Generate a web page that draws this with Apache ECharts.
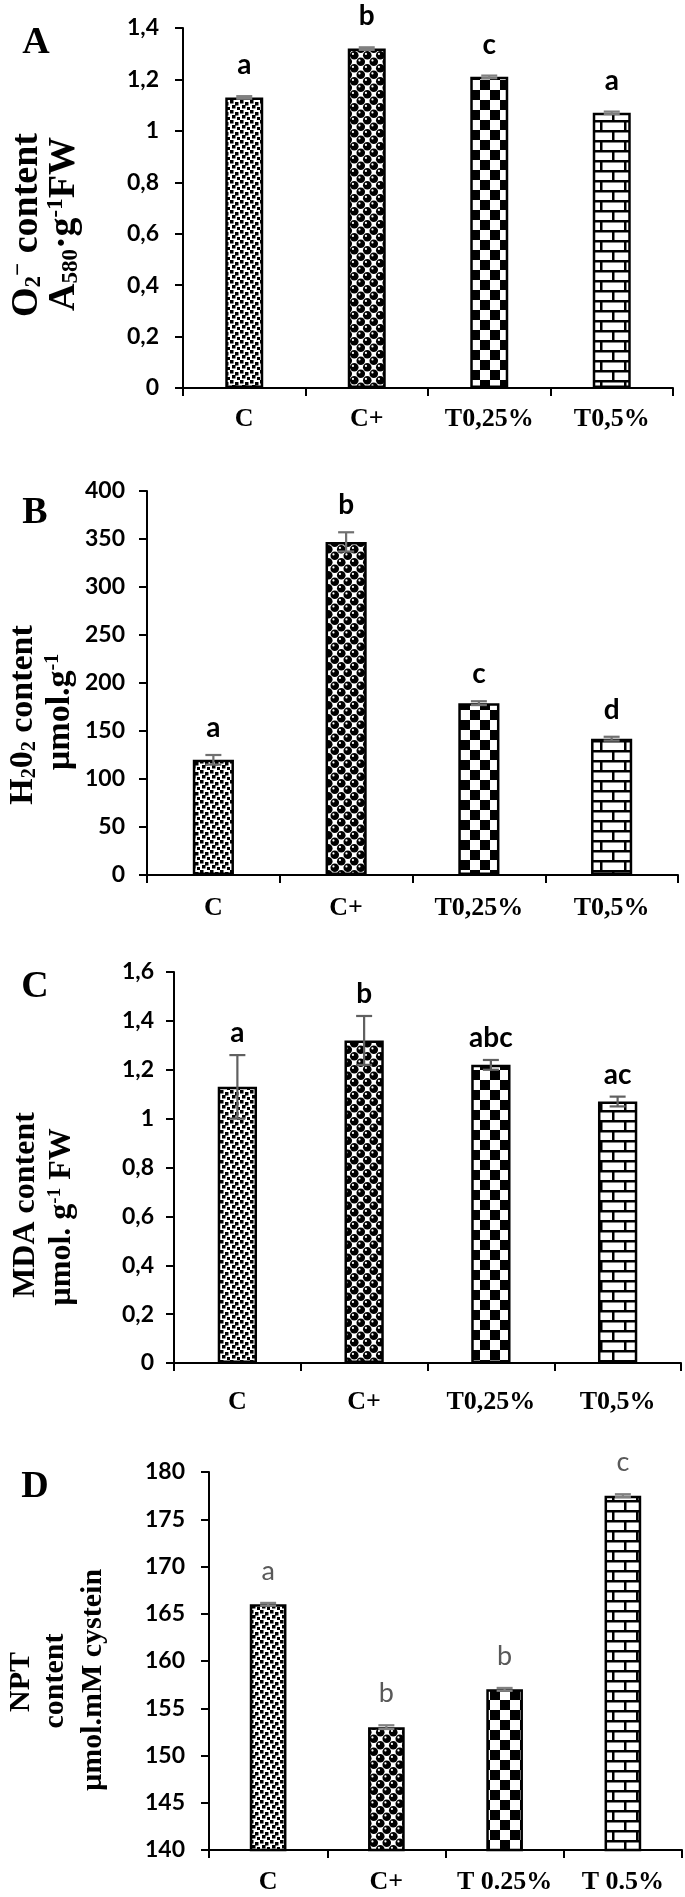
<!DOCTYPE html>
<html><head><meta charset="utf-8">
<script src="https://cdn.jsdelivr.net/npm/echarts@6/dist/echarts.min.js"></script>
<style>html,body{margin:0;padding:0;background:#fff}#chart{width:685px;height:1897px}</style>
</head><body><div id="chart"></div>
<script>
const categoriesABC = ['C', 'C+', 'T0,25%', 'T0,5%'];
const categoriesD = ['C', 'C+', 'T 0.25%', 'T 0.5%'];

const superoxide = [1.13, 1.32, 1.21, 1.07];
const superoxideErr = [0.005, 0.005, 0.005, 0.005];
const superoxideLetters = ['a', 'b', 'c', 'a'];

const peroxide = [120, 347, 179, 142];
const peroxideErr = [5, 10, 2, 2];
const peroxideLetters = ['a', 'b', 'c', 'd'];

const mda = [1.13, 1.32, 1.22, 1.07];
const mdaErr = [0.13, 0.10, 0.02, 0.02];
const mdaLetters = ['a', 'b', 'abc', 'ac'];

const npt = [166, 153, 157, 177.5];
const nptErr = [0.15, 0.2, 0.15, 0.15];
const nptLetters = ['a', 'b', 'b', 'c'];

const SERIF = "'Liberation Serif', 'Times New Roman', serif";
const SANS = "Lato, 'Open Sans', sans-serif";

function makePattern(w, h, draw) {
  const c = document.createElement('canvas');
  c.width = w; c.height = h;
  const g = c.getContext('2d');
  g.fillStyle = '#fff'; g.fillRect(0, 0, w, h);
  g.fillStyle = '#000';
  draw(g, w, h);
  return { image: c, repeat: 'repeat' };
}
const patDots = makePattern(10, 10, g => {
  [[0, 0], [5, 2], [2, 5], [7, 7]].forEach(p => g.fillRect(p[0], p[1], 3.5, 3.5));
});
const patSpheres = makePattern(13, 13, g => {
  [[3.25, 3.25], [9.75, 9.75]].forEach(p => {
    for (let dx = -13; dx <= 13; dx += 13) for (let dy = -13; dy <= 13; dy += 13) {
      g.fillStyle = '#000';
      g.beginPath(); g.arc(p[0] + dx, p[1] + dy, 4.3, 0, Math.PI * 2); g.fill();
      g.fillStyle = '#fff';
      g.beginPath(); g.arc(p[0] + dx - 1.3, p[1] + dy - 1.3, 1.1, 0, Math.PI * 2); g.fill();
    }
  });
});
const patChecker = makePattern(20, 20, g => {
  g.fillRect(0, 0, 10, 10); g.fillRect(10, 10, 10, 10);
});
const patBrick = makePattern(24, 20, g => {
  g.fillRect(0, 0, 24, 2.5); g.fillRect(0, 10, 24, 2.5);
  g.fillRect(0, 0, 2.5, 10); g.fillRect(12, 10, 2.5, 10);
});
const patterns = [patDots, patSpheres, patChecker, patBrick];

const commaFmt = v => String(Math.round(v * 10) / 10).replace('.', ',');

function xAx(gi, cats, margin) {
  return {
    type: 'category', gridIndex: gi, data: cats,
    axisLine: { show: true, lineStyle: { color: '#000', width: 2 } },
    axisTick: { show: true, length: 8, lineStyle: { color: '#000', width: 2 } },
    axisLabel: { margin: margin, fontFamily: SERIF, fontWeight: 'bold', fontSize: 26, color: '#000', interval: 0 },
    splitLine: { show: false }
  };
}
function yAx(gi, min, max, interval, fmt, margin) {
  return {
    type: 'value', gridIndex: gi, min: min, max: max, interval: interval,
    axisLine: { show: true, lineStyle: { color: '#000', width: 2 } },
    axisTick: { show: true, length: 8, lineStyle: { color: '#000', width: 2 } },
    splitLine: { show: false },
    axisLabel: { margin: margin, fontFamily: SANS, fontWeight: 'bold', fontSize: 23, color: '#000', formatter: fmt }
  };
}
function barSeries(gi, vals) {
  return {
    type: 'bar', xAxisIndex: gi, yAxisIndex: gi, barWidth: '31%', z: 2,
    data: vals.map((v, i) => ({ value: v, itemStyle: { color: patterns[i] } })),
    itemStyle: { borderColor: '#000', borderWidth: 2.5 }
  };
}
function errSeries(gi, vals, errs, letters, o) {
  return {
    type: 'custom', xAxisIndex: gi, yAxisIndex: gi, z: 5,
    data: vals.map((v, i) => [i, v, errs[i]]),
    renderItem: function (params, api) {
      const i = api.value(0), v = api.value(1), e = api.value(2);
      const top = api.coord([i, v + e]), bot = api.coord([i, v - e]);
      const hw = o.cap;
      const ls = { stroke: o.ecolor, lineWidth: 2.2 };
      return {
        type: 'group', children: [
          { type: 'line', shape: { x1: top[0], y1: top[1], x2: bot[0], y2: bot[1] }, style: ls },
          { type: 'line', shape: { x1: top[0] - hw, y1: top[1], x2: top[0] + hw, y2: top[1] }, style: ls },
          { type: 'line', shape: { x1: bot[0] - hw, y1: bot[1], x2: bot[0] + hw, y2: bot[1] }, style: ls },
          { type: 'text', x: top[0], y: top[1] - o.dist, style: {
              text: letters[params.dataIndex], align: 'center', verticalAlign: 'bottom',
              fontFamily: SANS, fontWeight: o.weight, fontSize: o.fs, fill: o.lcolor } }
        ]
      };
    }
  };
}

function richSet(fs) {
  const s = Math.round(fs * 0.6);
  return {
    sub: { fontFamily: SERIF, fontWeight: 'bold', fontSize: s, lineHeight: s, verticalAlign: 'bottom', fill: '#000' },
    sup: { fontFamily: SERIF, fontWeight: 'bold', fontSize: s, lineHeight: s, verticalAlign: 'top', fill: '#000' }
  };
}
function vtext(x, y, text, fs) {
  return {
    type: 'text', x: x, y: y, rotation: Math.PI / 2, z: 10,
    style: { text: text, rich: richSet(fs), fontFamily: SERIF, fontWeight: 'bold', fontSize: fs, lineHeight: fs,
      fill: '#000', align: 'center', verticalAlign: 'middle' }
  };
}
function ptext(x, y, text) {
  return { type: 'text', x: x, y: y, z: 10,
    style: { text: text, fontFamily: SERIF, fontWeight: 'bold', fontSize: 38, fill: '#000', align: 'center', verticalAlign: 'middle' } };
}

const chart = echarts.init(document.getElementById('chart'), null, { renderer: 'canvas' });
chart.setOption({
  animation: false,
  backgroundColor: '#fff',
  grid: [
    { left: 183, top: 28, width: 490, height: 360 },
    { left: 147, top: 491, width: 531, height: 384 },
    { left: 174, top: 972, width: 507, height: 391 },
    { left: 209, top: 1472, width: 473, height: 378 }
  ],
  xAxis: [xAx(0, categoriesABC, 18), xAx(1, categoriesABC, 20), xAx(2, categoriesABC, 26), xAx(3, categoriesD, 19)],
  yAxis: [
    yAx(0, 0, 1.4, 0.2, commaFmt, 24),
    yAx(1, 0, 400, 50, null, 22),
    yAx(2, 0, 1.6, 0.2, commaFmt, 20),
    yAx(3, 140, 180, 5, null, 24)
  ],
  series: [
    barSeries(0, superoxide),
    errSeries(0, superoxide, superoxideErr, superoxideLetters, { cap: 8, ecolor: '#808080', dist: 17, fs: 28, weight: 'bold', lcolor: '#000' }),
    barSeries(1, peroxide),
    errSeries(1, peroxide, peroxideErr, peroxideLetters, { cap: 8, ecolor: '#707070', dist: 13, fs: 28, weight: 'bold', lcolor: '#000' }),
    barSeries(2, mda),
    errSeries(2, mda, mdaErr, mdaLetters, { cap: 8, ecolor: '#606060', dist: 8, fs: 28, weight: 'bold', lcolor: '#000' }),
    barSeries(3, npt),
    errSeries(3, npt, nptErr, nptLetters, { cap: 8, ecolor: '#808080', dist: 18, fs: 27, weight: 'normal', lcolor: '#595959' })
  ],
  graphic: [
    ptext(36, 43, 'A'), ptext(35, 513, 'B'), ptext(35, 987, 'C'), ptext(35, 1487, 'D'),
    vtext(27, 225, 'O{sub|2}{sup|−} content', 38),
    vtext(64, 224, 'A{sub|580}·g{sup|-1}FW', 38),
    vtext(23, 715, 'H{sub|2}0{sub|2} content', 34),
    vtext(60, 712, 'µmol.g{sup|-1}', 34),
    vtext(26, 1205, 'MDA content', 32),
    vtext(62, 1217, 'µmol. g{sup|-1} FW', 32),
    vtext(21, 1682, 'NPT', 30),
    vtext(55, 1681, 'content', 30),
    vtext(93, 1680, 'µmol.mM cystein', 30)
  ]
});
</script>
</body></html>
